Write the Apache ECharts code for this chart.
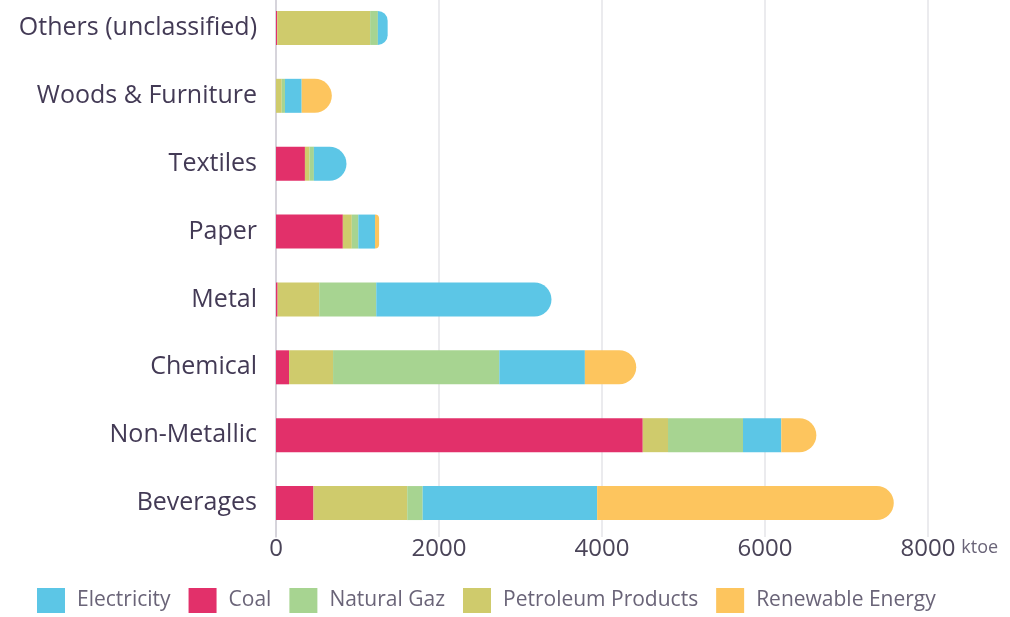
<!DOCTYPE html>
<html>
<head>
<meta charset="utf-8">
<script src="https://cdn.jsdelivr.net/npm/echarts@6/dist/echarts.min.js"></script>
<style>html,body{margin:0;padding:0;background:#fff}#c{width:1010px;height:617px}</style>
</head>
<body>
<div id="c"></div>
<script>
// Categories top to bottom
const categories = ['Others (unclassified)', 'Woods & Furniture', 'Textiles', 'Paper', 'Metal', 'Chemical', 'Non-Metallic', 'Beverages'];
// Values in ktoe, stacked in order Coal, Petroleum, Natural Gaz, Electricity, Renewable
const coal        = [15, 0, 355, 820, 20, 160, 4500, 460];
const petroleum   = [1140, 70, 55, 110, 510, 540, 310, 1150];
const naturalGaz  = [95, 40, 55, 80, 700, 2040, 920, 190];
const electricity = [120, 205, 400, 205, 2150, 1050, 470, 2140];
const renewable   = [0, 370, 0, 50, 0, 630, 430, 3640];
const xTicks = [0, 2000, 4000, 6000, 8000];

const colors = {
  'Electricity': '#5cc6e6',
  'Coal': '#e2306a',
  'Natural Gaz': '#a7d491',
  'Petroleum Products': '#cfcb6c',
  'Renewable Energy': '#fdc55e'
};
const stackOrder = [
  ['Coal', coal],
  ['Petroleum Products', petroleum],
  ['Natural Gaz', naturalGaz],
  ['Electricity', electricity],
  ['Renewable Energy', renewable]
];
const R = 17;
const series = stackOrder.map(([name, vals], si) => ({
  name: name,
  type: 'bar',
  stack: 'total',
  barWidth: 34,
  itemStyle: { color: colors[name] },
  emphasis: { disabled: true },
  data: vals.map((v, ci) => {
    let last = true;
    for (let k = si + 1; k < stackOrder.length; k++) if (stackOrder[k][1][ci] > 0) last = false;
    return last ? { value: v, itemStyle: { borderRadius: [0, R, R, 0] } } : v;
  })
}));

const chart = echarts.init(document.getElementById('c'));
chart.setOption({
  animation: false,
  backgroundColor: '#fff',
  grid: { left: 276, right: 82, top: -6, bottom: 80, outerBoundsMode: 'none', containLabel: false },
  legend: {
    data: ['Electricity', 'Coal', 'Natural Gaz', 'Petroleum Products', 'Renewable Energy'],
    left: 32, top: 583,
    itemWidth: 28, itemHeight: 25, itemGap: 18,
    icon: 'rect',
    textStyle: { fontFamily: 'Open Sans', fontSize: 21, color: '#6a6478', padding: [0, 0, 0, 7] }
  },
  xAxis: {
    type: 'value', min: 0, max: 8000, interval: 2000,
    name: 'ktoe', nameLocation: 'end', nameGap: 26,
    nameTextStyle: { fontFamily: 'Open Sans', fontSize: 18, color: '#6a6478', verticalAlign: 'top', padding: [2, 0, 0, 0] },
    axisLine: { show: false }, axisTick: { show: false },
    axisLabel: { fontFamily: 'Open Sans', fontSize: 24, color: '#4a4458', margin: 0,
      formatter: v => xTicks.indexOf(v) >= 0 ? String(v) : '' },
    splitLine: { lineStyle: { color: '#e4e4e8', width: 1.5 } }
  },
  yAxis: {
    type: 'category', data: categories, inverse: true,
    axisLine: { lineStyle: { color: '#cfcdd4', width: 1.5 } },
    axisTick: { show: false },
    axisLabel: { fontFamily: 'Open Sans', fontSize: 25, color: '#433a55', margin: 19 }
  },
  series: series
});
</script>
</body>
</html>
